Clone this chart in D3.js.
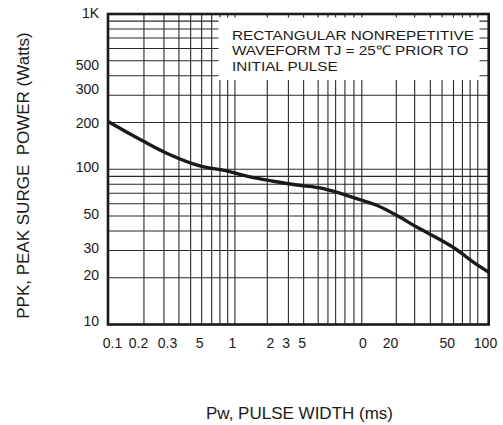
<!DOCTYPE html>
<html><head><meta charset="utf-8">
<script src="https://cdn.jsdelivr.net/npm/d3@7"></script>
<style>
html,body{margin:0;padding:0;background:#fff;}
svg{display:block;font-family:"Liberation Sans",Arial,sans-serif;}
</style></head>
<body>
<svg id="c" width="503" height="425"></svg>
<script>
// ---- data ----
const pulseWidth = [0.1, 0.14, 0.192, 0.308, 0.531, 0.861, 1.315, 2.01, 2.98, 4.98, 9.12, 13.1, 18.8, 27.1, 38.9, 56.0, 75.6, 100];
const peakPower  = [203, 174, 151, 124, 105, 97.5, 89.2, 83.7, 79.4, 75.1, 64.7, 58.6, 50.5, 42.4, 36.2, 30.3, 25.2, 21.7];

// vertical grid lines as drawn on the chart (ms)
const xGridValues = [0.192, 0.276, 0.362, 0.448, 0.547, 0.656, 0.762, 0.877, 1,
                     1.80, 2.64, 3.48, 4.53, 5.41, 6.22, 7.36, 8.67, 10,
                     18.7, 26.1, 34.7, 42.9, 52.8, 62.1, 71.4, 82.0];
// horizontal grid lines (W)
const yGridValues = [20,30,40,50,60,70,80,90,100,200,300,400,500,600,700,800,900];

// tick labels as printed, at the places where they sit on the axes
const xTickValues = [0.1075, 0.1723, 0.2916, 0.5215, 0.949, 1.891, 2.513, 3.36, 10.09, 16.7, 46.7, 93.5];
const xTickLabels = ["0.1", "0.2", "0.3", "5", "1", "2", "3", "5", "0", "20", "50", "100"];
const yTickValues = [1015, 469, 328, 198, 103, 51.3, 31.0, 20.7, 10.5];
const yTickLabels = ["1K", "500", "300", "200", "100", "50", "30", "20", "10"];

const noteLines = ["RECTANGULAR NONREPETITIVE", "WAVEFORM TJ = 25\u2103 PRIOR TO", "INITIAL PULSE"];
const xTitle = "Pw, PULSE WIDTH (ms)";
const yTitle = "PPK, PEAK SURGE  POWER (Watts)";

// ---- layout ----
const L = 108, R = 488.7, T = 14, B = 324.5;
const svg = d3.select("#c");
const x = d3.scaleLog().domain([0.1, 100]).range([L, R]);
const y = d3.scaleLog().domain([10, 1000]).range([B, T]);

const ink = "#1a1a1a";

// grid
const g = svg.append("g");
g.selectAll("line.vx").data(xGridValues).join("line")
  .attr("x1", d => x(d)).attr("x2", d => x(d)).attr("y1", T).attr("y2", B)
  .attr("stroke", "#2a2a2a").attr("stroke-width", 1.1);
g.selectAll("line.hy").data(yGridValues).join("line")
  .attr("x1", L).attr("x2", R).attr("y1", d => y(d)).attr("y2", d => y(d))
  .attr("stroke", "#2a2a2a").attr("stroke-width", 1.1);

// note box (white panel that hides the grid)
svg.append("rect").attr("x", 218.5).attr("y", T + 3.5).attr("width", 261).attr("height", 62.5)
  .attr("fill", "#fff");
// compact lines: slightly smaller type, stretched horizontally to the printed width
const noteFont = 13.3, noteStretch = 15.3 / 13.3, noteLead = 15.2;
noteLines.forEach((t, i) => {
  const tx = svg.append("text").attr("x", 232).attr("y", 40.2 + i * noteLead)
    .attr("font-size", noteFont).attr("fill", ink).text(t);
  const w = tx.node().getComputedTextLength();
  tx.attr("textLength", w * noteStretch).attr("lengthAdjust", "spacingAndGlyphs");
});

// curve
const line = d3.line().x((d, i) => x(pulseWidth[i])).y(d => y(d)).curve(d3.curveMonotoneX);
svg.append("path").attr("d", line(peakPower)).attr("fill", "none")
  .attr("stroke", ink).attr("stroke-width", 3.4).attr("stroke-linejoin", "round");

// frame
svg.append("rect").attr("x", L).attr("y", T).attr("width", R - L).attr("height", B - T)
  .attr("fill", "none").attr("stroke", ink).attr("stroke-width", 2.6);

// axes (labels only)
const xAxis = d3.axisBottom(x).tickValues(xTickValues).tickSize(0).tickPadding(0)
  .tickFormat((d, i) => xTickLabels[i]);
const ax = svg.append("g").attr("transform", `translate(0,${B})`).call(xAxis);
ax.select(".domain").remove();
ax.selectAll("text").attr("font-size", 14).attr("fill", ink).attr("dy", "1.0em").attr("y", 9.5)
  .attr("font-family", "Liberation Sans, Arial, sans-serif");

const yAxis = d3.axisLeft(y).tickValues(yTickValues).tickSize(0).tickPadding(9)
  .tickFormat((d, i) => yTickLabels[i]);
const ay = svg.append("g").attr("transform", `translate(${L},0)`).call(yAxis);
ay.select(".domain").remove();
ay.selectAll("text").attr("font-size", 14).attr("fill", ink)
  .attr("font-family", "Liberation Sans, Arial, sans-serif");

// titles
svg.append("text").attr("x", 299.5).attr("y", 419).attr("text-anchor", "middle")
  .attr("font-size", 17).attr("fill", ink).text(xTitle);
svg.append("text").attr("transform", "translate(28.5,175.5) rotate(-90)").attr("text-anchor", "middle")
  .attr("font-size", 17).attr("fill", ink).style("white-space", "pre").text(yTitle);
</script>
</body></html>
